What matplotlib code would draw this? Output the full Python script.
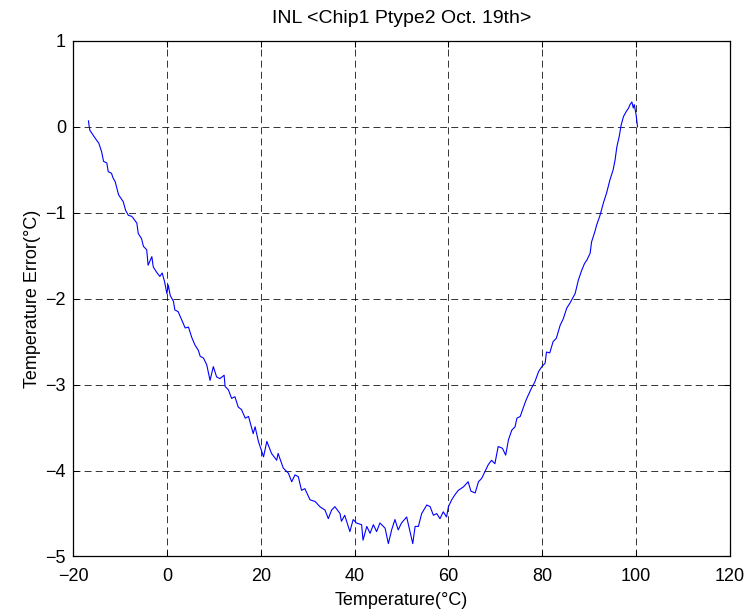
import matplotlib
matplotlib.use("Agg")
import matplotlib.pyplot as plt

# Measured INL temperature error versus temperature
temperature = [
    -16.7, -16.6, -16.4, -15.3, -14.5, -13.9, -13.5, -12.8, -12.5, -11.8, -11.5, -11.0,
    -10.3, -9.3, -8.8, -8.2, -7.5, -7.2, -6.4, -6.1, -5.4, -5.0, -4.3, -4.0, -3.2,
    -2.9, -2.2, -1.5, -1.0, -0.5, 0.0, 0.3, 0.7, 1.4, 1.7, 2.4, 3.2, 3.9, 4.6, 5.3,
    6.0, 6.7, 7.1, 7.8, 8.5, 9.2, 9.9, 10.6, 11.3, 12.2, 12.4, 13.1, 13.8, 14.5, 15.2,
    15.9, 16.7, 17.4, 18.4, 18.8, 19.5, 20.6, 21.3, 22.3, 23.4, 23.7, 24.8, 25.9,
    26.6, 27.3, 28.0, 28.7, 29.4, 30.5, 31.6, 32.6, 33.7, 34.4, 35.1, 35.8, 36.9,
    37.2, 37.9, 39.0, 39.7, 40.4, 41.5, 41.8, 42.6, 43.3, 44.0, 44.7, 45.4, 46.5,
    47.2, 47.9, 48.6, 49.3, 50.0, 51.1, 51.8, 52.4, 52.9, 53.6, 54.3, 55.4, 56.1,
    56.8, 57.5, 58.2, 58.9, 59.6, 60.0, 60.7, 61.4, 62.1, 63.2, 64.2, 64.8, 65.7,
    66.4, 67.1, 67.8, 68.5, 69.2, 69.9, 70.6, 71.5, 72.2, 72.8, 73.5, 74.2, 74.6,
    75.3, 76.0, 76.4, 76.7, 77.7, 78.4, 79.2, 79.9, 80.6, 80.9, 81.6, 82.3, 83.0,
    83.8, 84.5, 85.2, 85.9, 87.0, 87.7, 88.4, 89.0, 89.5, 90.2, 90.5, 91.2, 91.6,
    92.3, 93.0, 93.7, 94.4, 95.1, 95.5, 95.9, 96.4, 96.8, 97.3, 97.9, 98.4, 98.7,
    99.1, 99.4, 99.6, 100.0, 100.3,
]
temp_error = [
    0.07, 0.02, -0.04, -0.13, -0.19, -0.29, -0.40, -0.42, -0.52, -0.54, -0.59, -0.64,
    -0.79, -0.87, -0.97, -1.03, -1.04, -1.06, -1.12, -1.24, -1.30, -1.39, -1.43, -1.61, -1.51,
    -1.63, -1.69, -1.74, -1.70, -1.80, -1.94, -1.84, -1.96, -2.03, -2.13, -2.15, -2.25, -2.34, -2.33, -2.45,
    -2.54, -2.60, -2.67, -2.69, -2.77, -2.95, -2.79, -2.91, -2.93, -2.89, -3.02, -3.06, -3.16, -3.14, -3.26,
    -3.29, -3.39, -3.37, -3.57, -3.49, -3.66, -3.84, -3.66, -3.80, -3.88, -3.80, -3.97, -4.03,
    -4.13, -4.05, -4.07, -4.23, -4.21, -4.34, -4.36, -4.42, -4.46, -4.56, -4.46, -4.42, -4.50,
    -4.59, -4.52, -4.71, -4.57, -4.61, -4.63, -4.81, -4.65, -4.73, -4.63, -4.71, -4.61, -4.67,
    -4.85, -4.69, -4.57, -4.69, -4.61, -4.54, -4.71, -4.85, -4.65, -4.65, -4.50, -4.40, -4.42,
    -4.52, -4.50, -4.56, -4.48, -4.54, -4.42, -4.34, -4.28, -4.23, -4.19, -4.13, -4.24, -4.26,
    -4.13, -4.09, -4.01, -3.93, -3.88, -3.92, -3.72, -3.74, -3.82, -3.64, -3.53, -3.49, -3.39,
    -3.37, -3.26, -3.20, -3.16, -3.04, -2.97, -2.85, -2.79, -2.75, -2.62, -2.63, -2.50, -2.46,
    -2.31, -2.23, -2.11, -2.05, -1.94, -1.78, -1.67, -1.59, -1.55, -1.47, -1.34, -1.22, -1.14,
    -1.03, -0.89, -0.77, -0.62, -0.50, -0.39, -0.23, -0.11, 0.02, 0.12, 0.18, 0.22, 0.26,
    0.29, 0.22, 0.26, 0.14, 0.00,
]

x_ticks = [-20, 0, 20, 40, 60, 80, 100, 120]
y_ticks = [-5, -4, -3, -2, -1, 0, 1]

plt.rcParams['font.family'] = ['Liberation Sans', 'DejaVu Sans']
plt.rcParams['font.size'] = 13
plt.rcParams['lines.scale_dashes'] = False

fig = plt.figure(figsize=(7.49, 6.11), dpi=100)
ax = fig.add_axes([0.0975, 0.0892, 0.8771, 0.8437])

ax.plot(temperature, temp_error, color='#0000ff', linewidth=0.8)

ax.set_xlim(-20, 120)
ax.set_ylim(-5, 1)
ax.set_xticks(x_ticks)
ax.set_yticks(y_ticks)

ax.grid(True, color='black', linestyle=(0, (5.0, 3.0)), linewidth=0.7, alpha=0.8)
ax.set_axisbelow(True)

ax.tick_params(direction='in', length=4, width=0.75, top=True, right=True,
               labelsize=13, colors='black')
ax.tick_params(axis='x', pad=8)
ax.tick_params(axis='y', pad=5)
for s in ax.spines.values():
    s.set_linewidth(0.9)
    s.set_color('black')

ax.set_title('INL <Chip1 Ptype2 Oct. 19th>', fontsize=14, pad=13)
ax.set_xlabel('Temperature(\u00b0C)', fontsize=13, labelpad=5)
ax.set_ylabel('Temperature Error(\u00b0C)', fontsize=13, labelpad=3)

fig.savefig('out.png', dpi=100, facecolor='white')
